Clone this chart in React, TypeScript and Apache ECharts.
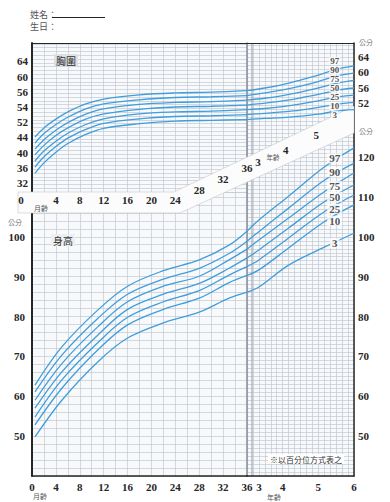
import React, { useEffect, useRef } from 'react';
import * as echarts from 'echarts';

// ---------- data ----------
const PERCENTILES = ['97', '90', '75', '50', '25', '10', '3'];

// chest circumference (cm) by age in months
const CHEST_MONTHS = [0.5, 2, 4, 6, 9, 12, 18, 24, 30, 36, 42, 48, 54, 60, 66, 72];
const CHEST_P97 = [44.1, 46.5, 48.8, 50.7, 52.8, 54.1, 55.2, 55.7, 55.9, 56.3, 57.0, 57.9, 59.1, 60.4, 61.9, 62.8];
const CHEST_P90 = [42.5, 45.0, 47.4, 49.3, 51.5, 52.8, 53.9, 54.5, 54.7, 55.0, 55.7, 56.5, 57.5, 58.7, 60.1, 60.9];
const CHEST_P75 = [40.9, 43.4, 45.9, 47.9, 50.1, 51.5, 52.7, 53.2, 53.4, 53.8, 54.3, 55.0, 55.9, 57.0, 58.2, 59.0];
const CHEST_P50 = [39.4, 41.9, 44.5, 46.5, 48.8, 50.2, 51.4, 52.0, 52.2, 52.5, 53.0, 53.6, 54.4, 55.3, 56.4, 57.0];
const CHEST_P25 = [37.8, 40.4, 43.0, 45.1, 47.4, 48.9, 50.2, 50.7, 50.9, 51.3, 51.6, 52.1, 52.8, 53.6, 54.6, 55.1];
const CHEST_P10 = [36.2, 38.9, 41.6, 43.8, 46.1, 47.7, 48.9, 49.5, 49.7, 50.0, 50.3, 50.7, 51.2, 51.9, 52.7, 53.2];
const CHEST_P3 = [34.6, 37.3, 40.1, 42.4, 44.8, 46.4, 47.6, 48.3, 48.5, 48.7, 49.0, 49.2, 49.6, 50.1, 50.9, 51.3];
const CHEST = [CHEST_P97, CHEST_P90, CHEST_P75, CHEST_P50, CHEST_P25, CHEST_P10, CHEST_P3];

// height (cm) by age in months
const HEIGHT_MONTHS = [0.5, 5, 11, 16, 22, 28, 33, 36, 40, 50, 62, 72];
const HEIGHT_P97 = [62.8, 72.4, 81.6, 87.6, 91.5, 94.2, 97.9, 101.4, 104.2, 110.2, 117.5, 122.3];
const HEIGHT_P90 = [61.1, 70.3, 79.5, 85.6, 89.4, 92.1, 95.8, 98.9, 101.3, 107.2, 114.2, 118.5];
const HEIGHT_P75 = [59.0, 68.2, 77.4, 83.7, 87.6, 90.1, 94.2, 96.9, 99.2, 104.7, 111.3, 116.0];
const HEIGHT_P50 = [57.0, 66.1, 75.3, 81.8, 85.6, 88.3, 92.1, 94.7, 96.7, 102.2, 108.8, 113.0];
const HEIGHT_P25 = [54.8, 64.1, 73.4, 79.8, 83.7, 86.5, 90.4, 92.5, 94.2, 99.7, 106.3, 110.5];
const HEIGHT_P10 = [52.8, 62.0, 71.6, 77.9, 81.8, 84.6, 88.5, 90.3, 91.7, 97.2, 103.8, 108.0];
const HEIGHT_P3 = [49.8, 59.0, 68.6, 74.6, 78.4, 81.1, 84.6, 86.1, 87.4, 92.9, 97.4, 100.9];
const HEIGHT = [HEIGHT_P97, HEIGHT_P90, HEIGHT_P75, HEIGHT_P50, HEIGHT_P25, HEIGHT_P10, HEIGHT_P3];

// tick labels
const MONTH_TICKS = [0, 4, 8, 12, 16, 20, 24, 28, 32, 36];
const YEAR_TICKS = [3, 4, 5, 6];
const CHEST_LEFT_TICKS = [32, 36, 40, 44, 48, 52, 56, 60, 64];
const CHEST_LEFT_LABELS = ['32', '36', '40', '44', '52', '54', '56', '60', '64'];
const CHEST_RIGHT_TICKS = [52, 56, 60, 64];
const HEIGHT_LEFT_TICKS = [50, 60, 70, 80, 90, 100];
const HEIGHT_RIGHT_TICKS = [50, 60, 70, 80, 90, 100, 110, 120];
const BAND_MONTHS = [0, 4, 8, 12, 16, 20, 24, 28, 32, 36];
const BAND_YEARS = [3, 4, 5];
const LABEL_MONTH = 65.5;

// ---------- layout / style ----------
const L = 32, MID = 247, R = 354, T = 43, SPLIT = 192, B = 476;
const CHEST_PX = 3.8, CHEST_REF = 32, CHEST_REF_Y = 183;
const CHEST_R_PX = 3.83, CHEST_R_REF = 52, CHEST_R_REF_Y = 103;
const H_PX = 3.985, H_REF = 50, H_REF_Y = 436;
const CHEST_LABEL_DY = [-8.8, -6.6, -4.8, -2.7, -0.5, 1.3, 3.4];
const HEIGHT_LABEL_DY = [-2, -2, 1, 1, 3, 5, 1];
const BAND_YEAR_DX = [11, 3, -2];

const BLUE = '#3f9edb';
const GRIDLINE = '#c2c8d4';
const GRID_BG = '#f8f9fb';
const INK = '#262626';
const SERIF = '"Liberation Serif", "DejaVu Serif", serif';
const CJK = '"Noto Sans CJK TC", "Noto Sans CJK SC", sans-serif';

const chestY = (y: number) => CHEST_REF + (CHEST_REF_Y - y) / CHEST_PX;
const chestRY = (y: number) => CHEST_R_REF + (CHEST_R_REF_Y - y) / CHEST_R_PX;
const heightY = (y: number) => H_REF + (H_REF_Y - y) / H_PX;

function interp(xs: number[], ys: number[], x: number) {
  for (let i = 0; i < xs.length - 1; i++) {
    if (x >= xs[i] && x <= xs[i + 1]) {
      const t = (x - xs[i]) / (xs[i + 1] - xs[i]);
      return ys[i] + t * (ys[i + 1] - ys[i]);
    }
  }
  return ys[ys.length - 1];
}

function pairs(ms: number[], vs: number[], lo: number, hi: number) {
  const out: number[][] = [];
  ms.forEach((m, i) => {
    if (m >= lo && m <= hi) out.push([m, vs[i]]);
  });
  return out;
}

const numLabel = { fontFamily: SERIF, fontSize: 11, fontWeight: 'bold' as const, color: INK };

function buildOption() {
  const split = () => ({ show: true, lineStyle: { color: GRIDLINE, width: 0.7 } });
  const border = (w: number, c = INK) => ({ show: true, onZero: false, lineStyle: { color: c, width: w } });
  const lineSeries: any[] = [];
  PERCENTILES.forEach((p, k) => {
    const base = {
      type: 'line', smooth: 0.35, symbol: 'none', silent: true,
      lineStyle: { color: BLUE, width: 1.3 }, z: 2,
    };
    lineSeries.push({ ...base, name: 'chest' + p, xAxisIndex: 0, yAxisIndex: 0, data: pairs(CHEST_MONTHS, CHEST[k], 0, 36) });
    lineSeries.push({ ...base, name: 'chestB' + p, xAxisIndex: 2, yAxisIndex: 3, data: pairs(CHEST_MONTHS, CHEST[k], 36, 72) });
    lineSeries.push({ ...base, name: 'height' + p, xAxisIndex: 1, yAxisIndex: 1, data: pairs(HEIGHT_MONTHS, HEIGHT[k], 0, 36) });
    lineSeries.push({ ...base, name: 'heightB' + p, xAxisIndex: 2, yAxisIndex: 2, data: pairs(HEIGHT_MONTHS, HEIGHT[k], 36, 72) });
  });
  const pctLabel = {
    show: true, position: 'inside', formatter: '{b}', fontFamily: SERIF, fontSize: 9,
    fontWeight: 'bold', color: INK, backgroundColor: '#ffffff', padding: [0, 1, 0, 1], lineHeight: 8,
  };
  const labelSeries = [
    {
      type: 'scatter', xAxisIndex: 2, yAxisIndex: 3, symbolSize: 1, silent: true, z: 5,
      itemStyle: { color: 'rgba(0,0,0,0)' }, label: pctLabel,
      data: PERCENTILES.map((p, k) => ({
        name: p, value: [LABEL_MONTH, interp(CHEST_MONTHS, CHEST[k], LABEL_MONTH)],
        label: { offset: [0, CHEST_LABEL_DY[k]] },
      })),
    },
    {
      type: 'scatter', xAxisIndex: 2, yAxisIndex: 2, symbolSize: 1, silent: true, z: 5,
      itemStyle: { color: 'rgba(0,0,0,0)' }, label: { ...pctLabel, fontSize: 11, lineHeight: 10, padding: [0, 2, 0, 2] },
      data: PERCENTILES.map((p, k) => ({
        name: p, value: [LABEL_MONTH, interp(HEIGHT_MONTHS, HEIGHT[k], LABEL_MONTH)],
        label: { offset: [0, HEIGHT_LABEL_DY[k]] },
      })),
    },
  ];

  return {
    animation: false,
    backgroundColor: '#ffffff',
    grid: [
      { left: L, top: T, width: MID - L, height: SPLIT - T, show: true, backgroundColor: GRID_BG, borderWidth: 0 },
      { left: L, top: SPLIT, width: MID - L, height: B - SPLIT, show: true, backgroundColor: GRID_BG, borderWidth: 0 },
      { left: MID, top: T, width: R - MID, height: B - T, show: true, backgroundColor: GRID_BG, borderWidth: 0 },
    ],
    xAxis: [
      {
        gridIndex: 0, type: 'value', position: 'top', min: 0, max: 36, interval: 2,
        axisLine: border(1.2), axisTick: { show: false }, axisLabel: { show: false }, splitLine: split(),
      },
      {
        gridIndex: 1, type: 'value', position: 'bottom', min: 0, max: 36, interval: 2,
        axisLine: border(1.5), axisTick: { show: false }, splitLine: split(),
        axisLabel: { ...numLabel, customValues: MONTH_TICKS, margin: 5 },
      },
      {
        gridIndex: 2, type: 'value', position: 'bottom', min: 36, max: 72, interval: 2,
        axisLine: border(1.5), axisTick: { show: false }, splitLine: split(),
        axisLabel: {
          ...numLabel, margin: 5,
          customValues: YEAR_TICKS.map((y) => y * 12),
          formatter: (v: number) => (v === 36 ? '{s|3}' : String(v / 12)),
          rich: { s: { ...numLabel, padding: [0, 0, 0, 24] } },
        },
      },
      {
        gridIndex: 2, type: 'value', position: 'top', min: 36, max: 72, show: true,
        axisLine: border(1.2), axisTick: { show: false }, axisLabel: { show: false }, splitLine: { show: false },
      },
    ],
    yAxis: [
      {
        gridIndex: 0, type: 'value', position: 'left', min: chestY(SPLIT), max: chestY(T), interval: 1,
        axisLine: border(2), axisTick: { show: false }, splitLine: split(),
        axisLabel: {
          ...numLabel, margin: 4, customValues: CHEST_LEFT_TICKS,
          formatter: (v: number) => {
            const i = CHEST_LEFT_TICKS.indexOf(v);
            return i >= 0 ? CHEST_LEFT_LABELS[i] : '';
          },
        },
      },
      {
        gridIndex: 1, type: 'value', position: 'left', min: 40, max: heightY(SPLIT), interval: 2,
        axisLine: border(2), axisTick: { show: false }, splitLine: split(),
        axisLabel: { ...numLabel, margin: 7, customValues: HEIGHT_LEFT_TICKS },
      },
      {
        gridIndex: 2, type: 'value', position: 'right', min: 40, max: heightY(T), interval: 1,
        axisLine: border(1.5), axisTick: { show: false }, splitLine: split(),
        axisLabel: { ...numLabel, margin: 4, customValues: HEIGHT_RIGHT_TICKS },
      },
      {
        gridIndex: 2, type: 'value', position: 'left', min: chestY(B), max: chestY(T),
        axisLine: border(1.6, '#8d93a0'), axisTick: { show: false }, axisLabel: { show: false }, splitLine: { show: false },
      },
      {
        gridIndex: 2, type: 'value', position: 'right', offset: 0, min: chestRY(B), max: chestRY(T),
        axisLine: { show: false }, axisTick: { show: false }, splitLine: { show: false },
        axisLabel: { ...numLabel, margin: 4, customValues: CHEST_RIGHT_TICKS },
      },
    ],
    series: [...lineSeries, ...labelSeries],
  };
}

function txt(text: string, x: number, y: number, size: number, opts: any = {}) {
  return {
    type: 'text', x, y, z: 10, silent: true,
    style: {
      text, fill: opts.fill || INK, fontSize: size, fontFamily: opts.family || CJK,
      fontWeight: opts.weight || 'normal',
      align: opts.align || 'center', textAlign: opts.align || 'center',
      verticalAlign: 'middle', textVerticalAlign: 'middle',
      backgroundColor: opts.bg, padding: opts.pad,
    },
  };
}

export default function App() {
  const ref = useRef<HTMLDivElement>(null);
  useEffect(() => {
    if (!ref.current) return;
    const chart = echarts.init(ref.current, null, { renderer: 'svg' });
    chart.setOption(buildOption() as any);

    const px = (axis: number, v: number) => chart.convertToPixel({ xAxisIndex: axis } as any, v) as unknown as number;
    const bandTop = (x: number) => (x <= 174 ? 192 : 192 - ((x - 174) * 86) / 180);
    const bandBot = (x: number) => (x <= 180 ? 213 : 213 - ((x - 180) * 78) / 174);
    const bandMid = (x: number) => (bandTop(x) + bandBot(x)) / 2 - 2.5;

    const graphics: any[] = [
      {
        type: 'polygon', z: 1, silent: true,
        shape: { points: [[18, 192], [174, 192], [R, 106], [R, 133], [180, 213], [18, 213]] },
        style: { fill: '#fcfcfc', stroke: '#c4c6cc', lineWidth: 0.6 },
      },
      {
        type: 'line', z: 0, silent: true,
        shape: { x1: MID + 5, y1: T, x2: MID + 5, y2: B },
        style: { stroke: '#a3a9b5', lineWidth: 1.2 },
      },
    ];
    BAND_MONTHS.forEach((m) => {
      let x = px(1, m);
      if (m === 0) x -= 11;
      graphics.push(txt(String(m), x, bandMid(x), 11, { family: SERIF, weight: 'bold' }));
    });
    BAND_YEARS.forEach((yv, i) => {
      const x = px(2, yv * 12) + BAND_YEAR_DX[i];
      graphics.push(txt(String(yv), x, bandMid(x), 11, { family: SERIF, weight: 'bold' }));
    });
    const x3 = px(2, 36) + 26;
    graphics.push(txt('年齡', x3, bandMid(x3) + 1, 6.5, { fill: '#555' }));
    graphics.push(txt('月齡', px(1, 0) + 9, 208, 7, { fill: '#555' }));
    graphics.push(txt('月齡', px(1, 0) + 8, 496, 7, { fill: '#555' }));
    graphics.push(txt('年齡', px(2, 36) + 27, 497, 7, { fill: '#555' }));

    // header & annotations
    graphics.push(txt('姓名：', 30, 14, 9, { fill: '#555', align: 'left' }));
    graphics.push({ type: 'line', z: 10, silent: true, shape: { x1: 52, y1: 17.5, x2: 105, y2: 17.5 }, style: { stroke: INK, lineWidth: 1 } });
    graphics.push(txt('生日：', 30, 26, 9, { fill: '#555', align: 'left' }));
    graphics.push(txt('公分', R + 5, 42, 7, { fill: '#777', align: 'left' }));
    graphics.push(txt('公分', R + 5, 131, 7, { fill: '#777', align: 'left' }));
    graphics.push(txt('公分', 8, 222, 7, { fill: '#777', align: 'left' }));
    graphics.push(txt('胸圍', 66, 60, 10, { fill: '#333', bg: '#dedfe3', pad: [1, 2] }));
    graphics.push(txt('身高', 63, 240, 10, { fill: '#333', bg: '#eceef2', pad: [1, 2] }));
    graphics.push(txt('※以百分位方式表之', 306, 459, 8, { fill: '#333', bg: '#ffffff', pad: [1, 2] }));

    chart.setOption({ graphic: graphics });
    return () => chart.dispose();
  }, []);
  return <div ref={ref} style={{ position: 'fixed', left: 0, top: 0, width: 390, height: 502 }} />;
}
